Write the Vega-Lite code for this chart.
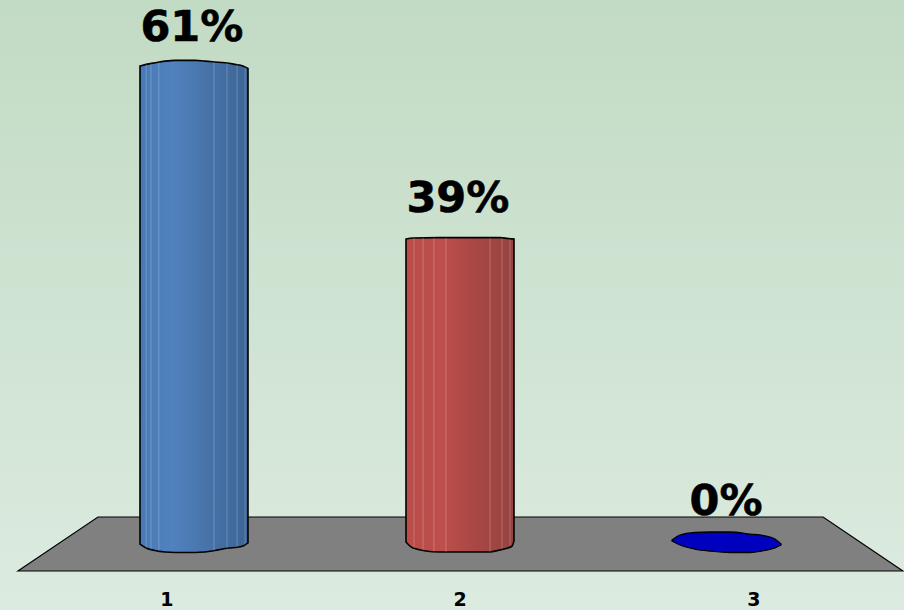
{"$schema":"https://vega.github.io/schema/vega-lite/v6.json","width":904,"height":610,"autosize":"none","padding":0,"background":"#d0e3d2","config":{"view":{"stroke":null},"axis":{"disable":true}},"datasets":{"floor":[{"x":0.338,"y":-2.36,"b":-2.36},{"x":0.639,"y":4.34,"b":-2.36},{"x":3.365,"y":4.34,"b":-2.36},{"x":3.665,"y":-2.36,"b":-2.36}],"col1":[{"x":0.797,"y":60.3,"b":0.99},{"x":0.82,"y":60.5,"b":0.5},{"x":0.853,"y":60.7,"b":0.19},{"x":0.891,"y":60.9,"b":0},{"x":0.929,"y":61,"b":-0.06},{"x":0.966,"y":61,"b":-0.06},{"x":1.004,"y":61,"b":-0.06},{"x":1.041,"y":60.9,"b":0},{"x":1.079,"y":60.8,"b":0.19},{"x":1.117,"y":60.7,"b":0.43},{"x":1.154,"y":60.5,"b":0.56},{"x":1.184,"y":60.3,"b":0.74},{"x":1.203,"y":60,"b":1.12}],"col2":[{"x":1.797,"y":38.83,"b":1.24},{"x":1.823,"y":38.96,"b":0.5},{"x":1.92,"y":39,"b":0},{"x":2.0,"y":39,"b":0},{"x":2.11,"y":39,"b":0},{"x":2.15,"y":39,"b":0.25},{"x":2.18,"y":38.9,"b":0.5},{"x":2.195,"y":38.85,"b":0.7},{"x":2.203,"y":38.83,"b":1.36}],"blob":[{"x":2.797,"y":1.49,"b":1.36},{"x":2.827,"y":2.11,"b":0.87},{"x":2.883,"y":2.42,"b":0.37},{"x":2.94,"y":2.48,"b":0.12},{"x":3.015,"y":2.48,"b":-0.06},{"x":3.09,"y":2.23,"b":-0.06},{"x":3.147,"y":1.99,"b":0.19},{"x":3.184,"y":1.61,"b":0.5},{"x":3.207,"y":0.99,"b":0.87}],"ribs":[{"x":0.82,"y":60.5,"b":0.5},{"x":0.838,"y":60.6,"b":0.3},{"x":0.868,"y":60.8,"b":0.1},{"x":1.075,"y":60.8,"b":0.2},{"x":1.124,"y":60.7,"b":0.45},{"x":1.162,"y":60.5,"b":0.6},{"x":1.192,"y":60.2,"b":0.9},{"x":1.827,"y":38.96,"b":0.5},{"x":1.861,"y":39,"b":0.2},{"x":1.902,"y":39,"b":0},{"x":1.947,"y":39,"b":0},{"x":2.113,"y":39,"b":0},{"x":2.158,"y":39,"b":0.3},{"x":2.188,"y":38.9,"b":0.9}],"values":[{"x":0.992,"y":63.4,"t":"61%"},{"x":1.992,"y":42.2,"t":"39%"},{"x":3.0,"y":4.6,"t":"0%"}],"cats":[{"x":0.898,"y":-6.7,"t":"1"},{"x":2.0,"y":-6.7,"t":"2"},{"x":3.105,"y":-6.7,"t":"3"}],"bg":[{"x":0.2707,"x2":3.6692,"y":-7.196,"y2":68.486}]},"encoding":{"x":{"field":"x","type":"quantitative","scale":{"domain":[0.2707,3.6692],"nice":false,"zero":false},"axis":null},"y":{"field":"y","type":"quantitative","scale":{"domain":[-7.196,68.486],"nice":false,"zero":false},"axis":null}},"layer":[{"data":{"name":"bg"},"mark":{"type":"rect","fill":{"gradient":"linear","x1":0,"y1":0,"x2":0,"y2":1,"stops":[{"offset":0,"color":"#c2dbc4"},{"offset":1,"color":"#dcebe0"}]}},"encoding":{"x2":{"field":"x2"},"y2":{"field":"y2"}}},{"data":{"name":"floor"},"mark":{"type":"area","fill":"#808080","stroke":"#000000","strokeWidth":1.2},"encoding":{"y2":{"field":"b"}}},{"data":{"name":"col1"},"mark":{"type":"area","interpolate":"monotone","stroke":"#000000","strokeWidth":1.6,"fill":{"gradient":"linear","x1":0,"y1":0,"x2":1,"y2":0,"stops":[{"offset":0,"color":"#477ab5"},{"offset":0.3,"color":"#5082bf"},{"offset":0.6,"color":"#4874aa"},{"offset":1,"color":"#3d6596"}]}},"encoding":{"y2":{"field":"b"}}},{"data":{"name":"col2"},"mark":{"type":"area","interpolate":"monotone","stroke":"#000000","strokeWidth":1.6,"fill":{"gradient":"linear","x1":0,"y1":0,"x2":1,"y2":0,"stops":[{"offset":0,"color":"#b84d4a"},{"offset":0.35,"color":"#bd4f4c"},{"offset":0.6,"color":"#aa4845"},{"offset":1,"color":"#964341"}]}},"encoding":{"y2":{"field":"b"}}},{"data":{"name":"ribs"},"mark":{"type":"rule","stroke":"#ffffff","strokeOpacity":0.22,"strokeWidth":1},"encoding":{"y2":{"field":"b"}}},{"data":{"name":"blob"},"mark":{"type":"area","interpolate":"monotone","fill":"#0000bf","stroke":"#000000","strokeWidth":1.3},"encoding":{"y2":{"field":"b"}}},{"data":{"name":"values"},"mark":{"type":"text","font":"DejaVu Sans","fontWeight":"bold","fontSize":43,"fill":"#000000","stroke":"#000000","strokeWidth":0.6,"align":"center","baseline":"alphabetic"},"encoding":{"text":{"field":"t"}}},{"data":{"name":"cats"},"mark":{"type":"text","font":"DejaVu Sans","fontWeight":"bold","fontSize":19,"fill":"#000000","align":"center","baseline":"alphabetic"},"encoding":{"text":{"field":"t"}}}]}
